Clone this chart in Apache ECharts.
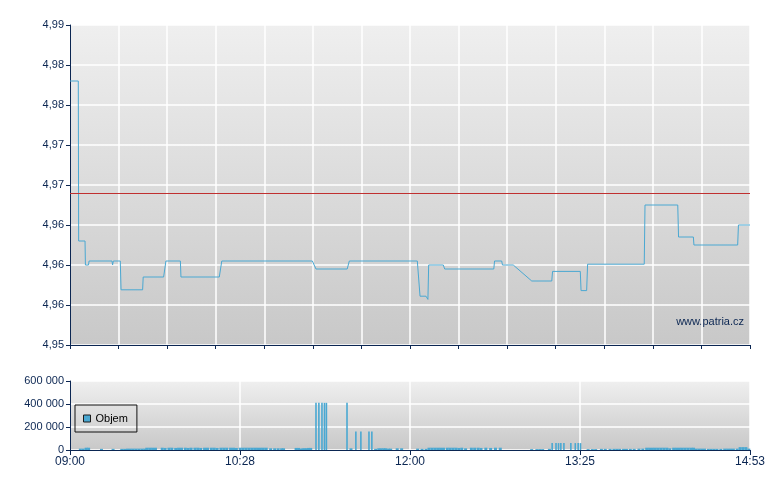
<!DOCTYPE html>
<html>
<head>
<meta charset="utf-8">
<script src="https://cdn.jsdelivr.net/npm/echarts@6/dist/echarts.min.js"></script>
<style>
html,body{margin:0;padding:0;background:#fff;}
#c{width:780px;height:490px;}
</style>
</head>
<body>
<div id="c"></div>
<script>
// minutes since 09:00
const xTickLabels = ['09:00', '10:28', '12:00', '13:25', '14:53'];
const yTickLabels = ['4,95', '4,96', '4,96', '4,96', '4,97', '4,97', '4,98', '4,98', '4,99'];
const refPrice = 4.969;
const priceData = [
  [0, 4.983], [4.3, 4.983], [4.5, 4.963], [7.8, 4.963], [8.0, 4.960], [9.6, 4.960],
  [9.9, 4.9605], [21.8, 4.9605], [22.1, 4.960], [22.5, 4.9605], [26.1, 4.9605],
  [26.5, 4.9569], [37.7, 4.9569], [38.0, 4.9585], [48.6, 4.9585], [49.8, 4.9605],
  [57.3, 4.9605], [57.6, 4.9585], [77.5, 4.9585], [78.8, 4.9605], [125.8, 4.9605],
  [127.7, 4.9595], [143.9, 4.9595], [145.0, 4.9605], [180.3, 4.9605], [181.7, 4.9561],
  [184.8, 4.9561], [185.8, 4.9557], [186.2, 4.960], [193.8, 4.960], [194.5, 4.9595],
  [220.0, 4.9595], [220.4, 4.9605], [224.1, 4.9605], [224.5, 4.960], [230.1, 4.960],
  [239.7, 4.958], [250.1, 4.958], [250.5, 4.9592], [264.9, 4.9592], [265.3, 4.9568],
  [268.2, 4.9568], [268.7, 4.9601], [298.1, 4.9601], [298.5, 4.9675], [315.5, 4.9675],
  [315.9, 4.9635], [323.6, 4.9635], [323.9, 4.9625], [346.6, 4.9625], [347.0, 4.965],
  [353, 4.965]
];
// small trades
const volumeSmall = [
  [5, 12000], [6.5, 12000], [8, 20000], [9.3, 20000], [16, 10000], [22, 10000],
  [26.5, 10000], [28, 10000], [29.5, 12000], [31, 12000], [32.5, 12000], [34, 12000],
  [35.5, 12000], [37, 12000], [38.4, 12000], [39.5, 20000], [41, 20000], [42.5, 20000], [44, 20000],
  [47.5, 20000], [49, 18000], [51, 20000], [52.5, 20000], [54.5, 18000], [56, 20000],
  [57.5, 20000], [59.5, 20000], [61, 18000], [62.5, 20000], [64.5, 20000], [66, 20000],
  [67.5, 18000], [69.5, 20000], [71, 20000], [73, 20000], [74.5, 20000], [76, 18000],
  [78, 20000], [79.5, 20000], [81, 20000], [83, 20000], [84.5, 20000], [86, 18000],
  [88, 20000], [89.5, 20000], [91, 20000], [92.5, 20000], [94, 20000], [95.5, 20000],
  [97, 20000], [98.5, 20000], [100, 20000], [101.5, 20000],
  [103.8, 15000], [105.9, 15000], [107.7, 15000], [109.5, 15000], [110.5, 15000],
  [117, 18000], [118.3, 18000], [119.4, 12000], [120.6, 15000], [121.6, 15000], [122.5, 15000],
  [123.5, 18000], [124.6, 18000], [145.5, 15000],
  [158.3, 10000], [159.9, 15000], [161.2, 15000], [162.5, 15000], [163.5, 15000],
  [165, 12000], [166.1, 12000], [169.5, 15000], [171.8, 15000], [180.1, 12000], [182.4, 10000],
  [184.5, 10000], [186, 20000], [187.5, 20000], [189, 20000], [190.5, 20000], [192, 20000],
  [193.5, 20000], [195.5, 20000], [197, 20000], [198.5, 20000], [200, 20000], [201.5, 18000],
  [203, 20000], [205, 15000], [208, 20000], [209.7, 20000], [211.5, 20000], [213, 18000],
  [215.5, 20000], [218, 18000], [220.5, 20000], [223, 20000],
  [239.3, 8000], [242, 8000], [243.5, 8000], [245, 8000], [248.5, 10000],
  [268.6, 8000], [270.8, 8000], [272.5, 8000], [275.5, 10000], [277.5, 10000],
  [280, 10000], [282, 10000], [283.5, 10000], [285, 10000], [287, 10000], [288.5, 10000],
  [290.5, 10000], [292.5, 10000], [295, 12000], [297, 12000],
  [299, 20000], [300.5, 20000], [302, 20000], [303.5, 20000], [305, 20000], [306.5, 20000],
  [308, 20000], [309.5, 20000], [311, 15000], [313, 20000], [314.5, 20000], [316, 20000],
  [317.5, 20000], [319, 20000], [320.5, 20000], [322, 20000], [323.3, 20000],
  [324.5, 12000], [326, 12000], [327.5, 12000], [329, 12000],
  [331, 10000], [332.5, 10000], [334, 10000], [335.5, 10000], [337.5, 10000],
  [339.5, 12000], [341, 12000], [342.5, 12000], [344, 12000], [346, 12000],
  [347.5, 25000], [349, 25000], [350.5, 25000], [352, 12000]
];
// large trades
const volumeLarge = [
  [127.7, 410000], [129.2, 410000], [130.8, 410000], [132.1, 410000], [133.1, 410000],
  [143.8, 410000],
  [148.4, 160000], [151, 160000], [155.2, 160000], [156.7, 160000],
  [250.3, 60000], [252.3, 60000], [253.6, 60000], [254.8, 60000], [256.4, 60000],
  [260, 60000], [262.3, 60000], [263.8, 60000], [265, 60000]
];

const navy = '#0b2652';
const lineBlue = '#4aa8d2';
const font = "'Liberation Sans', Arial, sans-serif";
const chart = echarts.init(document.getElementById('c'), null, {renderer: 'canvas'});
const bgGrad = () => new echarts.graphic.LinearGradient(0, 0, 0, 1, [
  {offset: 0, color: '#efefef'}, {offset: 1, color: '#c8c8c8'}
]);
const xMax = 353;
const option = {
  animation: false,
  backgroundColor: '#ffffff',
  textStyle: {fontFamily: font},
  grid: [
    {left: 70, right: 30, top: 25, height: 320, show: true, backgroundColor: bgGrad(), borderWidth: 0},
    {left: 70, right: 30, top: 381, height: 69, show: true, backgroundColor: bgGrad(), borderWidth: 0}
  ],
  legend: {
    data: ['Objem'], left: 75, top: 405, orient: 'vertical',
    borderColor: '#111', borderWidth: 1, padding: [8, 9, 8, 8],
    itemWidth: 7, itemHeight: 7, icon: 'rect', itemGap: 5,
    itemStyle: {borderColor: '#1a1a1a', borderWidth: 1},
    textStyle: {fontSize: 11, color: '#000', fontFamily: font}
  },
  xAxis: [
    {
      type: 'value', gridIndex: 0, min: 0, max: xMax, interval: xMax / 14,
      axisLine: {show: true, lineStyle: {color: navy, width: 1}},
      axisTick: {show: true, length: 4, lineStyle: {color: navy}},
      axisLabel: {show: false},
      splitLine: {show: true, lineStyle: {color: '#ffffff', width: 1.5}}
    },
    {
      type: 'value', gridIndex: 1, min: 0, max: xMax, interval: xMax / 4,
      axisLine: {show: true, lineStyle: {color: navy, width: 1}},
      axisTick: {show: true, length: 5, lineStyle: {color: navy}},
      axisLabel: {show: true, color: navy, fontSize: 12, fontFamily: font, margin: 6,
        formatter: (v) => xTickLabels[Math.round(v / (xMax / 4))] || ''},
      splitLine: {show: true, lineStyle: {color: '#ffffff', width: 1.5}}
    }
  ],
  yAxis: [
    {
      type: 'value', gridIndex: 0, min: 4.95, max: 4.99, interval: 0.005,
      axisLine: {show: true, lineStyle: {color: navy, width: 1}},
      axisTick: {show: true, length: 4, lineStyle: {color: navy}},
      axisLabel: {color: navy, fontSize: 11, fontFamily: font, margin: 6,
        formatter: (v, i) => yTickLabels[i] !== undefined ? yTickLabels[i] : ''},
      splitLine: {show: true, lineStyle: {color: '#ffffff', width: 1.5}}
    },
    {
      type: 'value', gridIndex: 1, min: 0, max: 600000, interval: 200000,
      axisLine: {show: true, lineStyle: {color: navy, width: 1}},
      axisTick: {show: true, length: 4, lineStyle: {color: navy}},
      axisLabel: {color: navy, fontSize: 11, fontFamily: font, margin: 6,
        formatter: (v) => String(v).replace(/\B(?=(\d{3})+(?!\d))/g, ' ')},
      splitLine: {show: true, lineStyle: {color: '#ffffff', width: 1.5}}
    }
  ],
  graphic: [
    {type: 'text', right: 36, top: 316, style: {text: 'www.patria.cz', fill: navy, font: "11px 'Liberation Sans', Arial, sans-serif"}}
  ],
  series: [
    {
      name: 'Cena', type: 'line', xAxisIndex: 0, yAxisIndex: 0, data: priceData,
      showSymbol: false, symbol: 'none', lineStyle: {color: lineBlue, width: 1}, itemStyle: {color: lineBlue},
      markLine: {
        silent: true, symbol: 'none', label: {show: false}, precision: 4,
        lineStyle: {color: '#c03030', width: 1, type: 'solid'},
        data: [{yAxis: refPrice}]
      }
    },
    {
      name: 'Objem', type: 'bar', xAxisIndex: 1, yAxisIndex: 1, data: volumeSmall,
      barWidth: 3, barGap: '-100%', itemStyle: {color: lineBlue}
    },
    {
      name: 'Objem', type: 'bar', xAxisIndex: 1, yAxisIndex: 1, data: volumeLarge,
      barWidth: 1.6, barGap: '-100%', itemStyle: {color: lineBlue}
    }
  ]
};
chart.setOption(option);
</script>
</body>
</html>
